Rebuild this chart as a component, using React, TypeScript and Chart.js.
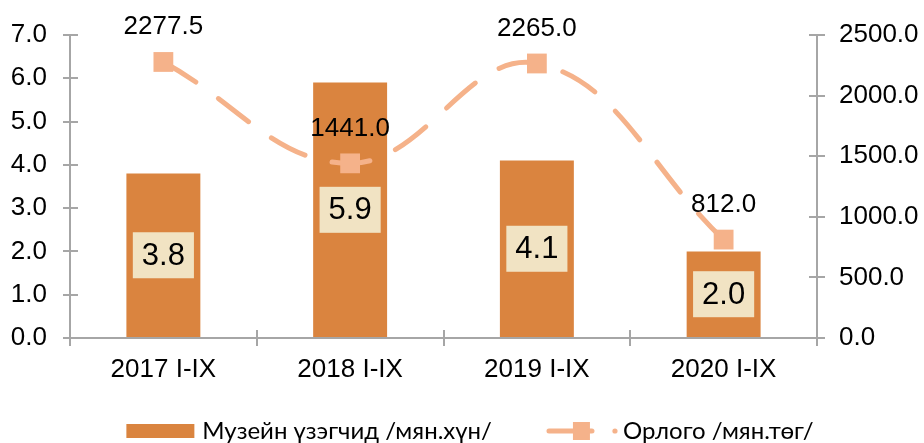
import React, { useEffect, useRef } from "react";
import { Chart, registerables } from "chart.js";

Chart.register(...registerables);

const categories = ["2017 I-IX", "2018 I-IX", "2019 I-IX", "2020 I-IX"];
const visitors = [3.8, 5.9, 4.1, 2.0];
const revenue = [2277.5, 1441.0, 2265.0, 812.0];
const visitorsLabel = "Музейн үзэгчид /мян.хүн/";
const revenueLabel = "Орлого /мян.төг/";
const leftMax = 7;
const leftStep = 1;
const rightMax = 2500;
const rightStep = 500;

const BAR_COLOR = "#DA843F";
const LINE_COLOR = "#F5B28A";
const AXIS_COLOR = "#A6A6A6";
const LABEL_BG = "#F1E3C3";
const FONT = "'Liberation Sans', Arial, sans-serif";
const LEGEND_FONT = "Lato, 'Liberation Sans', sans-serif";

function makeBarIcon(): HTMLCanvasElement {
  const c = document.createElement("canvas");
  c.width = 100;
  c.height = 24;
  const ctx = c.getContext("2d")!;
  ctx.fillStyle = BAR_COLOR;
  ctx.fillRect(26, 5, 68, 14);
  return c;
}

function makeLineIcon(): HTMLCanvasElement {
  const c = document.createElement("canvas");
  c.width = 100;
  c.height = 24;
  const ctx = c.getContext("2d")!;
  ctx.strokeStyle = LINE_COLOR;
  ctx.lineWidth = 5;
  ctx.lineCap = "round";
  ctx.beginPath();
  ctx.moveTo(28, 12);
  ctx.lineTo(71, 12);
  ctx.stroke();
  ctx.fillStyle = LINE_COLOR;
  ctx.fillRect(52, 3, 17, 18);
  ctx.beginPath();
  ctx.arc(94, 12, 2.6, 0, Math.PI * 2);
  ctx.fill();
  return c;
}

const innerTicks = {
  id: "innerTicks",
  beforeDatasetsDraw(chart: any) {
    const { ctx, chartArea, scales } = chart;
    ctx.save();
    ctx.strokeStyle = AXIS_COLOR;
    ctx.lineWidth = 2;
    const y = scales.y;
    y.ticks.forEach((t: any) => {
      const py = Math.round(y.getPixelForValue(t.value));
      ctx.beginPath();
      ctx.moveTo(chartArea.left, py);
      ctx.lineTo(chartArea.left + 8, py);
      ctx.stroke();
    });
    const y1 = scales.y1;
    y1.ticks.forEach((t: any) => {
      const py = Math.round(y1.getPixelForValue(t.value));
      ctx.beginPath();
      ctx.moveTo(chartArea.right, py);
      ctx.lineTo(chartArea.right - 8, py);
      ctx.stroke();
    });
    const x = scales.x;
    const n = categories.length;
    const step = x.getPixelForTick(1) - x.getPixelForTick(0);
    for (let i = 1; i < n; i++) {
      const px = Math.round(x.getPixelForTick(i) - step / 2);
      ctx.beginPath();
      ctx.moveTo(px, chartArea.bottom);
      ctx.lineTo(px, chartArea.bottom - 8);
      ctx.stroke();
    }
    ctx.restore();
  },
};

const valueLabels = {
  id: "valueLabels",
  afterDatasetsDraw(chart: any) {
    const ctx = chart.ctx;
    ctx.save();
    ctx.textAlign = "center";
    ctx.textBaseline = "middle";
    chart.data.datasets.forEach((ds: any, di: number) => {
      const meta = chart.getDatasetMeta(di);
      meta.data.forEach((el: any, i: number) => {
        const v = ds.data[i] as number;
        const text = v.toFixed(1);
        if (meta.type === "bar") {
          const { x, y, base } = el.getProps(["x", "y", "base"], true);
          const cy = (y + base) / 2;
          ctx.font = `31px ${FONT}`;
          const w = ctx.measureText(text).width + 18;
          const h = 46;
          ctx.fillStyle = LABEL_BG;
          ctx.fillRect(x - w / 2, cy - h / 2, w, h);
          ctx.fillStyle = "#000";
          ctx.fillText(text, x, cy + 1);
        } else {
          ctx.font = `26px ${FONT}`;
          ctx.fillStyle = "#000";
          ctx.fillText(text, el.x, el.y - 35);
        }
      });
    });
    ctx.restore();
  },
};

export default function App() {
  const ref = useRef<HTMLCanvasElement | null>(null);
  useEffect(() => {
    if (!ref.current) return;
    const barIcon = makeBarIcon();
    const lineIcon = makeLineIcon();
    const axisFont = { family: FONT, size: 26 };
    const chart = new Chart(ref.current, {
      type: "bar",
      data: {
        labels: categories,
        datasets: [
          {
            type: "bar",
            label: visitorsLabel,
            data: visitors,
            backgroundColor: BAR_COLOR,
            yAxisID: "y",
            order: 1,
            barPercentage: 0.396,
            categoryPercentage: 1,
          } as any,
          {
            type: "line",
            label: revenueLabel,
            data: revenue,
            yAxisID: "y1",
            order: 0,
            borderColor: LINE_COLOR,
            borderWidth: 5,
            borderDash: [38, 28],
            borderCapStyle: "round",
            tension: 0.4,
            fill: false,
            pointStyle: "rect",
            pointRadius: 14,
            pointHoverRadius: 14,
            pointBackgroundColor: LINE_COLOR,
            pointBorderWidth: 0,
          } as any,
        ],
      },
      options: {
        responsive: false,
        animation: false,
        devicePixelRatio: 1,
        layout: { padding: { top: 35, left: 0, right: 0, bottom: 0 } },
        plugins: {
          tooltip: { enabled: false },
          legend: {
            position: "bottom",
            labels: {
              usePointStyle: true,
              pointStyleWidth: 80,
              padding: 39,
              color: "#000",
              font: { family: LEGEND_FONT, size: 24 },
              generateLabels: () => [
                {
                  text: visitorsLabel,
                  pointStyle: barIcon as any,
                  fillStyle: BAR_COLOR,
                  strokeStyle: BAR_COLOR,
                  lineWidth: 0,
                  hidden: false,
                  datasetIndex: 0,
                },
                {
                  text: revenueLabel,
                  pointStyle: lineIcon as any,
                  fillStyle: LINE_COLOR,
                  strokeStyle: LINE_COLOR,
                  lineWidth: 0,
                  hidden: false,
                  datasetIndex: 1,
                },
              ],
            },
          },
        },
        scales: {
          x: {
            grid: { offset: true, drawOnChartArea: false, tickLength: 8, color: AXIS_COLOR, lineWidth: 2 },
            border: { color: AXIS_COLOR, width: 2 },
            ticks: { font: axisFont, color: "#000", padding: 8, maxRotation: 0 },
            afterFit: (s: any) => {
              s.height = 42;
            },
          },
          y: {
            position: "left",
            min: 0,
            max: leftMax,
            ticks: {
              stepSize: leftStep,
              callback: (v: any) => Number(v).toFixed(1),
              font: axisFont,
              color: "#000",
              padding: 16,
            },
            grid: { drawOnChartArea: false, tickLength: 7, color: AXIS_COLOR, lineWidth: 2 },
            border: { color: AXIS_COLOR, width: 2 },
            afterFit: (s: any) => {
              s.width = 70;
            },
          },
          y1: {
            position: "right",
            min: 0,
            max: rightMax,
            ticks: {
              stepSize: rightStep,
              callback: (v: any) => Number(v).toFixed(1),
              font: axisFont,
              color: "#000",
              padding: 14,
            },
            grid: { drawOnChartArea: false, tickLength: 8, color: AXIS_COLOR, lineWidth: 2 },
            border: { color: AXIS_COLOR, width: 2 },
            afterFit: (s: any) => {
              s.width = 107;
            },
          },
        },
      },
      plugins: [innerTicks, valueLabels],
    });
    return () => chart.destroy();
  }, []);

  return (
    <div style={{ position: "fixed", left: 0, top: 0, width: 924, height: 453 }}>
      <canvas ref={ref} width={924} height={453} style={{ display: "block" }} />
    </div>
  );
}
